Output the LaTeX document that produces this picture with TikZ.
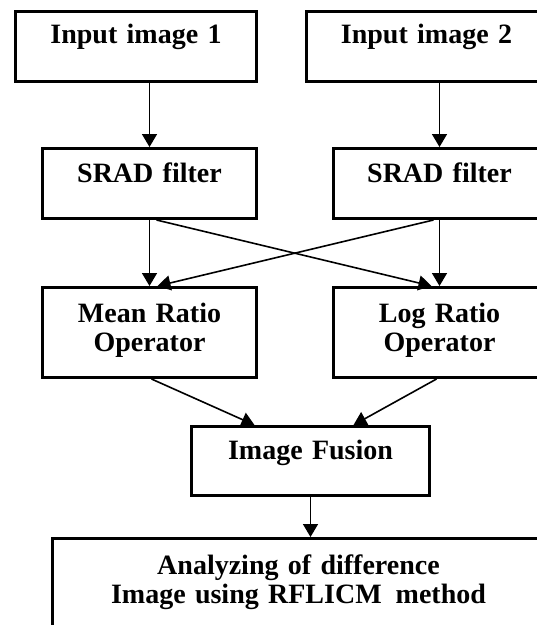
\documentclass[tikz,border=0pt]{standalone}
\usepackage{fontspec}
\setmainfont{Liberation Serif}
\usepackage{tikz}
\usetikzlibrary{arrows.meta}
\tikzstyle{box}=[draw,line width=3pt,inner sep=0pt,align=center,anchor=north west,
  text height=35pt,font=\fontsize{28}{29}\selectfont\bfseries]
\tikzstyle{flowhead}=[>/.tip={Triangle[length=13pt,width=15pt]}]
\tikzstyle{flow}=[line width=1.6pt,flowhead,->]
\begin{document}
\begin{tikzpicture}[x=1pt,y=-1pt]
	\useasboundingbox (0,0) rectangle (537,625);
	\clip (0,0) rectangle (537,625);
	\node[box,text width=241pt,text height=32pt,text depth=38pt] (in1) at (14,10) {Input image 1};
	\node[box,text width=240pt,text height=32pt,text depth=38pt] (in2) at (305,10) {Input image 2};
	\node[box,text width=214pt,text height=34pt,text depth=36pt] (srad1) at (41,147) {SRAD filter};
	\node[box,text width=212pt,text height=34pt,text depth=36pt] (srad2) at (332,147) {SRAD filter};
	\node[box,text width=214pt,text depth=55pt] (mean) at (41,286) {Mean Ratio\\Operator};
	\node[box,text width=212pt,text depth=55pt] (log) at (332,286) {Log Ratio\\Operator};
	\node[box,text width=238pt,text height=33pt,text depth=36pt] (fus) at (190,425) {Image Fusion\hspace*{24pt}};
	\node[box,text width=492pt,text height=36pt,text depth=85pt] (fin) at (51,537)
		{Analyzing of difference\\Image using RFLICM\, method};
	\draw[flow] (srad1.north |- in1.south) -- (srad1.north);
	\draw[flow] (srad2.north |- in2.south) -- (srad2.north);
	\draw[flow] (srad1) -- (mean);
	\draw[flow] (srad2) -- (log);
	\draw[flow] ([xshift=7pt]srad1.south) -- ([xshift=-8pt]log.north);
	\draw[flow] ([xshift=-6pt]srad2.south) -- ([xshift=8pt]mean.north);
	\draw[flow] ([xshift=2pt]mean.south) -- ([xshift=-56pt]fus.north);
	\draw[flow] ([xshift=-3pt]log.south) -- ([xshift=43pt]fus.north);
	\draw[flow] (fus) -- (fus.south |- fin.north);
\end{tikzpicture}
\end{document}
